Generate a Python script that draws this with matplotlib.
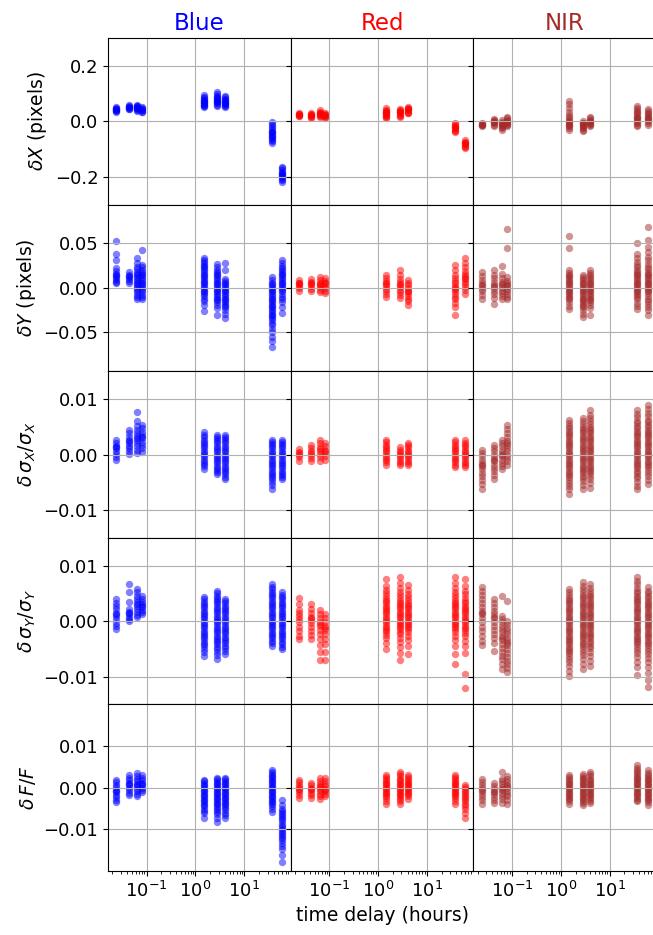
import numpy as np
import matplotlib
matplotlib.use('Agg')
import matplotlib.pyplot as plt

# time delay of each comparison group (hours)
delays = [0.024, 0.043, 0.064, 0.081, 1.48, 2.8, 4.0, 37.0, 60.0]

bands = ['Blue', 'Red', 'NIR']
band_colors = ['blue', 'red', 'brown']

# ---- delta X (pixels)
dx_blue = [
    [0.050, 0.046, 0.043, 0.040, 0.037, 0.034, 0.045, 0.041],
    [0.059, 0.055, 0.051, 0.048, 0.045, 0.043, 0.053],
    [0.060, 0.056, 0.052, 0.049, 0.045, 0.041, 0.037, 0.054, 0.047],
    [0.050, 0.046, 0.042, 0.039, 0.035, 0.033, 0.044],
    [0.095, 0.088, 0.082, 0.077, 0.072, 0.068, 0.064, 0.060, 0.056, 0.052, 0.075, 0.066, 0.058],
    [0.104, 0.097, 0.091, 0.086, 0.081, 0.077, 0.072, 0.068, 0.064, 0.060, 0.056, 0.083, 0.070],
    [0.092, 0.086, 0.080, 0.075, 0.071, 0.066, 0.062, 0.058, 0.054, 0.050, 0.078, 0.064],
    [-0.003, -0.010, -0.018, -0.025, -0.031, -0.037, -0.043, -0.049, -0.055, -0.060, -0.066, -0.072, -0.077, -0.040, -0.052],
    [-0.163, -0.170, -0.177, -0.183, -0.189, -0.195, -0.201, -0.207, -0.212, -0.217, -0.186, -0.198],
]
dx_red = [
    [0.029, 0.026, 0.023, 0.020, 0.018, 0.025],
    [0.030, 0.026, 0.022, 0.018, 0.015, 0.012, 0.024],
    [0.040, 0.035, 0.031, 0.027, 0.023, 0.019, 0.016, 0.029],
    [0.030, 0.026, 0.022, 0.018, 0.014, 0.011, 0.024],
    [0.047, 0.042, 0.038, 0.034, 0.030, 0.026, 0.022, 0.018, 0.014, 0.012, 0.032],
    [0.044, 0.040, 0.036, 0.032, 0.028, 0.024, 0.020, 0.017, 0.034],
    [0.051, 0.047, 0.043, 0.039, 0.035, 0.031, 0.028, 0.045],
    [-0.006, -0.011, -0.016, -0.021, -0.026, -0.031, -0.036, -0.040, -0.019],
    [-0.068, -0.073, -0.078, -0.083, -0.088, -0.092, -0.096, -0.080],
]
dx_nir = [
    [-0.006, -0.009, -0.012, -0.015, -0.018, -0.011],
    [0.008, 0.004, 0.000, -0.004, -0.008, -0.012, -0.016, -0.002],
    [0.004, -0.001, -0.006, -0.011, -0.016, -0.021, -0.026, -0.030, -0.013],
    [0.016, 0.011, 0.006, 0.001, -0.004, -0.009, -0.014, -0.018, -0.007],
    [0.074, 0.061, 0.047, 0.034, 0.022, 0.014, 0.007, 0.000, -0.006, -0.012, -0.018, -0.024, -0.030, -0.003, -0.015],
    [0.000, -0.005, -0.010, -0.015, -0.020, -0.025, -0.030, -0.036, -0.018, -0.008],
    [0.016, 0.011, 0.006, 0.001, -0.004, -0.009, -0.014, -0.018, -0.006],
    [0.056, 0.047, 0.040, 0.034, 0.028, 0.022, 0.016, 0.010, 0.004, -0.002, -0.008, -0.013, -0.018, 0.012],
    [0.044, 0.037, 0.031, 0.025, 0.019, 0.013, 0.007, 0.001, -0.005, -0.012, 0.010],
]

# ---- delta Y (pixels)
dy_blue = [
    [0.053, 0.038, 0.031, 0.022, 0.019, 0.016, 0.013, 0.011, 0.009, 0.007, 0.005, 0.014],
    [0.018, 0.015, 0.012, 0.010, 0.008, 0.006, 0.013],
    [0.033, 0.028, 0.024, 0.021, 0.018, 0.016, 0.014, 0.012, 0.010, 0.008, 0.006, 0.004, 0.002, 0.000, -0.002, -0.005, -0.008, -0.010, -0.013],
    [0.042, 0.026, 0.023, 0.020, 0.018, 0.016, 0.014, 0.012, 0.010, 0.008, 0.006, 0.004, 0.002, 0.000, -0.002, -0.005, -0.008, -0.010, -0.013],
    [0.034, 0.031, 0.029, 0.027, 0.025, 0.023, 0.021, 0.019, 0.017, 0.015, 0.013, 0.011, 0.009, 0.007, 0.005, 0.003, 0.001, -0.001, -0.003, -0.005, -0.007, -0.009, -0.012, -0.015, -0.019, -0.026],
    [0.027, 0.023, 0.020, 0.018, 0.016, 0.014, 0.012, 0.010, 0.008, 0.006, 0.004, 0.002, 0.000, -0.002, -0.004, -0.006, -0.008, -0.010, -0.012, -0.014, -0.016, -0.019, -0.023, -0.030],
    [0.028, 0.020, 0.010, 0.008, 0.006, 0.004, 0.002, 0.000, -0.002, -0.004, -0.006, -0.008, -0.010, -0.012, -0.014, -0.016, -0.018, -0.020, -0.022, -0.025, -0.029, -0.034],
    [0.012, 0.009, 0.006, 0.004, 0.002, 0.000, -0.002, -0.004, -0.006, -0.008, -0.010, -0.012, -0.014, -0.016, -0.018, -0.020, -0.022, -0.024, -0.026, -0.028, -0.030, -0.032, -0.034, -0.036, -0.039, -0.042, -0.046, -0.050, -0.055, -0.060, -0.066],
    [0.031, 0.028, 0.025, 0.022, 0.020, 0.018, 0.016, 0.014, 0.012, 0.010, 0.008, 0.006, 0.004, 0.002, 0.000, -0.002, -0.004, -0.007, -0.010, -0.013, -0.016, -0.021, -0.028],
]
dy_red = [
    [0.009, 0.006, 0.004, 0.002, 0.000, -0.003, 0.005],
    [0.010, 0.007, 0.004, 0.002, -0.001, -0.004, 0.006],
    [0.012, 0.009, 0.006, 0.003, 0.001, -0.002, -0.005, 0.004],
    [0.011, 0.008, 0.005, 0.002, 0.000, -0.003, -0.006, 0.006],
    [0.015, 0.011, 0.008, 0.005, 0.002, -0.001, -0.004, -0.007, -0.010, 0.004],
    [0.020, 0.014, 0.010, 0.007, 0.004, 0.001, -0.002, -0.005, -0.008, -0.011, 0.003],
    [0.009, 0.006, 0.003, 0.000, -0.003, -0.006, -0.009, -0.012, -0.015, -0.019, -0.004],
    [0.026, 0.020, 0.015, 0.011, 0.008, 0.005, 0.002, -0.001, -0.004, -0.007, -0.010, -0.013, -0.017, -0.022, -0.030, 0.000],
    [0.034, 0.028, 0.023, 0.019, 0.016, 0.013, 0.010, 0.007, 0.004, 0.001, -0.002, -0.007, 0.011],
]
dy_nir = [
    [0.018, 0.013, 0.009, 0.005, 0.002, -0.001, -0.004, -0.008, -0.013, 0.003],
    [0.020, 0.015, 0.011, 0.007, 0.003, 0.000, -0.003, -0.007, -0.011, -0.018, 0.002],
    [0.025, 0.016, 0.011, 0.007, 0.003, 0.000, -0.003, -0.006, -0.009, -0.013, 0.004],
    [0.066, 0.045, 0.012, 0.008, 0.005, 0.002, -0.001, -0.004, -0.007, -0.010, -0.013, 0.003],
    [0.058, 0.045, 0.020, 0.017, 0.015, 0.013, 0.011, 0.009, 0.007, 0.005, 0.003, 0.001, -0.001, -0.003, -0.005, -0.007, -0.009, -0.011, -0.013, -0.016, -0.020, -0.024],
    [0.015, 0.012, 0.010, 0.008, 0.006, 0.004, 0.002, 0.000, -0.002, -0.004, -0.006, -0.008, -0.010, -0.012, -0.014, -0.016, -0.018, -0.020, -0.022, -0.025, -0.029, -0.033],
    [0.020, 0.017, 0.014, 0.012, 0.010, 0.008, 0.006, 0.004, 0.002, 0.000, -0.002, -0.004, -0.006, -0.008, -0.010, -0.012, -0.014, -0.016, -0.019, -0.023, -0.030],
    [0.050, 0.038, 0.033, 0.029, 0.026, 0.023, 0.020, 0.018, 0.016, 0.014, 0.012, 0.010, 0.008, 0.006, 0.004, 0.002, 0.000, -0.002, -0.004, -0.006, -0.008, -0.010, -0.013, -0.017, -0.020, -0.024],
    [0.068, 0.054, 0.046, 0.040, 0.035, 0.031, 0.027, 0.024, 0.021, 0.018, 0.016, 0.014, 0.012, 0.010, 0.008, 0.006, 0.004, 0.002, 0.000, -0.002, -0.004, -0.006, -0.009, -0.012, -0.015, -0.018, -0.021, -0.025, -0.030],
]

# ---- relative change of PSF width in x
dsx_blue = [
    [0.0027, 0.0021, 0.0016, 0.0011, 0.0006, 0.0001, -0.0004, -0.0010, 0.0013],
    [0.0045, 0.0038, 0.0032, 0.0026, 0.0021, 0.0016, 0.0011, 0.0006, 0.0001, 0.0024],
    [0.0077, 0.0061, 0.0052, 0.0045, 0.0039, 0.0033, 0.0027, 0.0021, 0.0015, 0.0009, 0.0003, 0.0030],
    [0.0054, 0.0047, 0.0041, 0.0035, 0.0029, 0.0023, 0.0017, 0.0011, 0.0005, 0.0032],
    [0.0040, 0.0035, 0.0031, 0.0027, 0.0023, 0.0019, 0.0015, 0.0011, 0.0007, 0.0003, -0.0001, -0.0005, -0.0009, -0.0013, -0.0017, -0.0021, -0.0027],
    [0.0036, 0.0032, 0.0028, 0.0024, 0.0020, 0.0016, 0.0012, 0.0008, 0.0004, 0.0000, -0.0004, -0.0008, -0.0012, -0.0016, -0.0020, -0.0024, -0.0028, -0.0032, -0.0036],
    [0.0036, 0.0032, 0.0028, 0.0024, 0.0020, 0.0016, 0.0012, 0.0008, 0.0004, 0.0000, -0.0004, -0.0008, -0.0012, -0.0016, -0.0020, -0.0024, -0.0028, -0.0032, -0.0036, -0.0040, -0.0045],
    [0.0027, 0.0023, 0.0019, 0.0015, 0.0011, 0.0007, 0.0003, -0.0001, -0.0005, -0.0009, -0.0013, -0.0017, -0.0021, -0.0025, -0.0029, -0.0033, -0.0037, -0.0041, -0.0045, -0.0050, -0.0055, -0.0063],
    [0.0027, 0.0023, 0.0019, 0.0015, 0.0011, 0.0007, 0.0003, -0.0001, -0.0005, -0.0009, -0.0013, -0.0017, -0.0021, -0.0025, -0.0029, -0.0033, -0.0037, -0.0041, -0.0045],
]
dsx_red = [
    [0.0010, 0.0005, 0.0000, -0.0005, -0.0012, 0.0002],
    [0.0018, 0.0012, 0.0006, 0.0000, -0.0006, -0.0012, 0.0003],
    [0.0027, 0.0020, 0.0013, 0.0007, 0.0001, -0.0005, -0.0012, 0.0010],
    [0.0021, 0.0015, 0.0009, 0.0003, -0.0003, -0.0009, 0.0006],
    [0.0027, 0.0022, 0.0018, 0.0014, 0.0010, 0.0006, 0.0002, -0.0002, -0.0006, -0.0010, -0.0014, -0.0018],
    [0.0013, 0.0009, 0.0005, 0.0001, -0.0003, -0.0007, -0.0011, -0.0015, -0.0018],
    [0.0021, 0.0017, 0.0013, 0.0009, 0.0005, 0.0001, -0.0003, -0.0007, -0.0011, -0.0015, -0.0018],
    [0.0027, 0.0022, 0.0018, 0.0014, 0.0010, 0.0006, 0.0002, -0.0002, -0.0006, -0.0010, -0.0014, -0.0018, -0.0023],
    [0.0026, 0.0021, 0.0017, 0.0013, 0.0009, 0.0005, 0.0001, -0.0003, -0.0007, -0.0011, -0.0015, -0.0019, -0.0023],
]
dsx_nir = [
    [0.0009, 0.0003, -0.0003, -0.0009, -0.0015, -0.0021, -0.0027, -0.0033, -0.0039, -0.0046, -0.0054, -0.0063, -0.0018],
    [0.0018, 0.0012, 0.0006, 0.0000, -0.0006, -0.0012, -0.0018, -0.0024, -0.0030, -0.0037, -0.0045, -0.0009],
    [0.0027, 0.0021, 0.0015, 0.0009, 0.0003, -0.0003, -0.0009, -0.0015, -0.0021, -0.0027, 0.0000],
    [0.0054, 0.0046, 0.0039, 0.0032, 0.0025, 0.0018, 0.0012, 0.0006, 0.0000, -0.0006, -0.0012, -0.0018, 0.0021],
    [0.0063, 0.0057, 0.0052, 0.0047, 0.0043, 0.0039, 0.0035, 0.0031, 0.0027, 0.0023, 0.0019, 0.0015, 0.0011, 0.0007, 0.0003, -0.0001, -0.0005, -0.0009, -0.0013, -0.0017, -0.0021, -0.0025, -0.0029, -0.0033, -0.0037, -0.0041, -0.0046, -0.0051, -0.0057, -0.0063, -0.0071],
    [0.0066, 0.0060, 0.0055, 0.0050, 0.0046, 0.0042, 0.0038, 0.0034, 0.0030, 0.0026, 0.0022, 0.0018, 0.0014, 0.0010, 0.0006, 0.0002, -0.0002, -0.0006, -0.0010, -0.0014, -0.0018, -0.0022, -0.0026, -0.0030, -0.0034, -0.0038, -0.0043, -0.0048, -0.0055, -0.0063],
    [0.0080, 0.0072, 0.0066, 0.0060, 0.0055, 0.0050, 0.0046, 0.0042, 0.0038, 0.0034, 0.0030, 0.0026, 0.0022, 0.0018, 0.0014, 0.0010, 0.0006, 0.0002, -0.0002, -0.0006, -0.0010, -0.0014, -0.0018, -0.0022, -0.0026, -0.0030, -0.0034, -0.0039, -0.0045, -0.0052, -0.0060],
    [0.0080, 0.0073, 0.0067, 0.0061, 0.0056, 0.0051, 0.0047, 0.0043, 0.0039, 0.0035, 0.0031, 0.0027, 0.0023, 0.0019, 0.0015, 0.0011, 0.0007, 0.0003, -0.0001, -0.0005, -0.0009, -0.0013, -0.0017, -0.0021, -0.0025, -0.0029, -0.0033, -0.0038, -0.0043, -0.0049, -0.0056, -0.0063],
    [0.0090, 0.0082, 0.0075, 0.0069, 0.0063, 0.0058, 0.0053, 0.0049, 0.0045, 0.0041, 0.0037, 0.0033, 0.0029, 0.0025, 0.0021, 0.0017, 0.0013, 0.0009, 0.0005, 0.0001, -0.0003, -0.0007, -0.0011, -0.0015, -0.0019, -0.0023, -0.0028, -0.0033, -0.0039, -0.0046, -0.0054],
]

# ---- relative change of PSF width in y
dsy_blue = [
    [0.0039, 0.0033, 0.0027, 0.0021, 0.0015, 0.0009, 0.0003, -0.0003, -0.0009, -0.0014, 0.0012],
    [0.0066, 0.0052, 0.0034, 0.0022, 0.0017, 0.0012, 0.0007, 0.0003, 0.0001, 0.0015],
    [0.0058, 0.0052, 0.0046, 0.0040, 0.0034, 0.0028, 0.0022, 0.0016, 0.0011, 0.0007, 0.0031],
    [0.0045, 0.0040, 0.0035, 0.0030, 0.0025, 0.0020, 0.0016, 0.0013, 0.0028],
    [0.0043, 0.0039, 0.0035, 0.0031, 0.0027, 0.0023, 0.0019, 0.0015, 0.0011, 0.0007, 0.0003, -0.0001, -0.0005, -0.0009, -0.0013, -0.0017, -0.0021, -0.0025, -0.0029, -0.0033, -0.0037, -0.0041, -0.0045, -0.0050, -0.0055, -0.0062],
    [0.0055, 0.0050, 0.0046, 0.0042, 0.0038, 0.0034, 0.0030, 0.0026, 0.0022, 0.0018, 0.0014, 0.0010, 0.0006, 0.0002, -0.0002, -0.0006, -0.0010, -0.0014, -0.0018, -0.0022, -0.0026, -0.0030, -0.0034, -0.0038, -0.0042, -0.0046, -0.0050, -0.0055, -0.0061, -0.0069],
    [0.0040, 0.0036, 0.0032, 0.0028, 0.0024, 0.0020, 0.0016, 0.0012, 0.0008, 0.0004, 0.0000, -0.0004, -0.0008, -0.0012, -0.0016, -0.0020, -0.0024, -0.0028, -0.0032, -0.0036, -0.0040, -0.0044, -0.0048, -0.0053, -0.0060],
    [0.0067, 0.0062, 0.0057, 0.0053, 0.0049, 0.0045, 0.0041, 0.0037, 0.0033, 0.0029, 0.0025, 0.0021, 0.0017, 0.0013, 0.0009, 0.0005, 0.0001, -0.0003, -0.0007, -0.0011, -0.0015, -0.0019, -0.0023, -0.0027, -0.0031, -0.0035, -0.0039, -0.0044],
    [0.0052, 0.0047, 0.0043, 0.0039, 0.0035, 0.0031, 0.0027, 0.0023, 0.0019, 0.0015, 0.0011, 0.0007, 0.0003, -0.0001, -0.0005, -0.0009, -0.0013, -0.0017, -0.0021, -0.0025, -0.0029, -0.0033, -0.0037, -0.0041, -0.0046, -0.0051],
]
dsy_red = [
    [0.0042, 0.0030, 0.0020, 0.0010, 0.0004, -0.0002, -0.0010, -0.0018, -0.0026, -0.0033, 0.0014],
    [0.0030, 0.0022, 0.0015, 0.0008, 0.0002, -0.0004, -0.0011, -0.0018, -0.0025, -0.0033, 0.0005],
    [0.0020, 0.0012, 0.0005, -0.0002, -0.0009, -0.0016, -0.0024, -0.0033, -0.0043, -0.0055, -0.0070, -0.0006],
    [0.0012, 0.0005, -0.0002, -0.0009, -0.0016, -0.0024, -0.0032, -0.0042, -0.0055, -0.0070, -0.0012],
    [0.0075, 0.0064, 0.0056, 0.0050, 0.0045, 0.0040, 0.0036, 0.0032, 0.0028, 0.0024, 0.0020, 0.0016, 0.0012, 0.0008, 0.0004, 0.0000, -0.0004, -0.0008, -0.0012, -0.0016, -0.0020, -0.0025, -0.0031, -0.0039, -0.0050],
    [0.0080, 0.0069, 0.0060, 0.0053, 0.0047, 0.0042, 0.0037, 0.0033, 0.0029, 0.0025, 0.0021, 0.0017, 0.0013, 0.0009, 0.0005, 0.0001, -0.0003, -0.0007, -0.0011, -0.0015, -0.0019, -0.0024, -0.0030, -0.0037, -0.0046, -0.0057, -0.0070],
    [0.0065, 0.0056, 0.0049, 0.0043, 0.0038, 0.0033, 0.0029, 0.0025, 0.0021, 0.0017, 0.0013, 0.0009, 0.0005, 0.0001, -0.0003, -0.0007, -0.0011, -0.0015, -0.0020, -0.0026, -0.0034, -0.0044, -0.0060],
    [0.0080, 0.0069, 0.0060, 0.0053, 0.0047, 0.0042, 0.0037, 0.0033, 0.0029, 0.0025, 0.0021, 0.0017, 0.0013, 0.0009, 0.0005, 0.0001, -0.0003, -0.0007, -0.0011, -0.0015, -0.0020, -0.0026, -0.0034, -0.0045, -0.0060, -0.0078],
    [0.0075, 0.0064, 0.0055, 0.0048, 0.0042, 0.0037, 0.0032, 0.0028, 0.0024, 0.0020, 0.0016, 0.0012, 0.0008, 0.0004, 0.0000, -0.0004, -0.0008, -0.0012, -0.0016, -0.0021, -0.0027, -0.0035, -0.0045, -0.0058, -0.0095, -0.0120],
]
dsy_nir = [
    [0.0061, 0.0054, 0.0047, 0.0040, 0.0033, 0.0026, 0.0019, 0.0012, 0.0005, -0.0002, -0.0010, -0.0018, -0.0027, -0.0035, -0.0043, 0.0015],
    [0.0040, 0.0033, 0.0026, 0.0019, 0.0012, 0.0005, -0.0002, -0.0009, -0.0016, -0.0023, -0.0031, -0.0040, -0.0053, 0.0008],
    [0.0045, 0.0010, 0.0004, -0.0002, -0.0008, -0.0014, -0.0020, -0.0027, -0.0034, -0.0041, -0.0048, -0.0055, -0.0062, -0.0069, -0.0077, -0.0086, -0.0030],
    [0.0037, 0.0000, -0.0006, -0.0012, -0.0018, -0.0024, -0.0030, -0.0036, -0.0043, -0.0050, -0.0057, -0.0064, -0.0071, -0.0078, -0.0085, -0.0092, -0.0040],
    [0.0058, 0.0052, 0.0047, 0.0042, 0.0038, 0.0034, 0.0030, 0.0026, 0.0022, 0.0018, 0.0014, 0.0010, 0.0006, 0.0002, -0.0002, -0.0006, -0.0010, -0.0014, -0.0018, -0.0022, -0.0026, -0.0030, -0.0034, -0.0038, -0.0042, -0.0046, -0.0050, -0.0054, -0.0058, -0.0063, -0.0068, -0.0074, -0.0081, -0.0089, -0.0098],
    [0.0070, 0.0063, 0.0057, 0.0052, 0.0047, 0.0043, 0.0039, 0.0035, 0.0031, 0.0027, 0.0023, 0.0019, 0.0015, 0.0011, 0.0007, 0.0003, -0.0001, -0.0005, -0.0009, -0.0013, -0.0017, -0.0021, -0.0025, -0.0029, -0.0033, -0.0037, -0.0041, -0.0045, -0.0050, -0.0055, -0.0061, -0.0068, -0.0077, -0.0087],
    [0.0067, 0.0060, 0.0054, 0.0049, 0.0045, 0.0041, 0.0037, 0.0033, 0.0029, 0.0025, 0.0021, 0.0017, 0.0013, 0.0009, 0.0005, 0.0001, -0.0003, -0.0007, -0.0011, -0.0015, -0.0019, -0.0023, -0.0027, -0.0031, -0.0035, -0.0039, -0.0044, -0.0049, -0.0055, -0.0062, -0.0071, -0.0081],
    [0.0079, 0.0072, 0.0066, 0.0060, 0.0055, 0.0050, 0.0046, 0.0042, 0.0038, 0.0034, 0.0030, 0.0026, 0.0022, 0.0018, 0.0014, 0.0010, 0.0006, 0.0002, -0.0002, -0.0006, -0.0010, -0.0014, -0.0018, -0.0022, -0.0026, -0.0030, -0.0034, -0.0038, -0.0042, -0.0047, -0.0052, -0.0058, -0.0065, -0.0073, -0.0083, -0.0097],
    [0.0061, 0.0055, 0.0050, 0.0045, 0.0041, 0.0037, 0.0033, 0.0029, 0.0025, 0.0021, 0.0017, 0.0013, 0.0009, 0.0005, 0.0001, -0.0003, -0.0007, -0.0011, -0.0015, -0.0019, -0.0023, -0.0027, -0.0031, -0.0035, -0.0039, -0.0043, -0.0048, -0.0053, -0.0059, -0.0066, -0.0074, -0.0083, -0.0094, -0.0106, -0.0119],
]

# ---- relative flux change
df_blue = [
    [0.0019, 0.0013, 0.0007, 0.0001, -0.0005, -0.0011, -0.0017, -0.0023, -0.0029, -0.0034, -0.0008],
    [0.0030, 0.0024, 0.0018, 0.0012, 0.0006, 0.0000, -0.0006, -0.0012, -0.0017, 0.0010],
    [0.0036, 0.0029, 0.0022, 0.0016, 0.0010, 0.0004, -0.0002, -0.0008, -0.0014, -0.0020, 0.0007],
    [0.0030, 0.0024, 0.0018, 0.0012, 0.0006, 0.0000, -0.0006, -0.0011, 0.0009],
    [0.0019, 0.0015, 0.0011, 0.0007, 0.0003, -0.0001, -0.0005, -0.0009, -0.0013, -0.0017, -0.0021, -0.0025, -0.0029, -0.0033, -0.0037, -0.0041, -0.0045, -0.0050, -0.0055, -0.0061, -0.0072],
    [0.0024, 0.0020, 0.0016, 0.0012, 0.0008, 0.0004, 0.0000, -0.0004, -0.0008, -0.0012, -0.0016, -0.0020, -0.0024, -0.0028, -0.0032, -0.0036, -0.0040, -0.0044, -0.0048, -0.0053, -0.0058, -0.0064, -0.0072, -0.0082],
    [0.0024, 0.0020, 0.0016, 0.0012, 0.0008, 0.0004, 0.0000, -0.0004, -0.0008, -0.0012, -0.0016, -0.0020, -0.0024, -0.0028, -0.0032, -0.0036, -0.0040, -0.0044, -0.0049, -0.0054, -0.0060, -0.0066, -0.0072],
    [0.0043, 0.0038, 0.0033, 0.0029, 0.0025, 0.0021, 0.0017, 0.0013, 0.0009, 0.0005, 0.0001, -0.0003, -0.0007, -0.0011, -0.0015, -0.0019, -0.0023, -0.0027, -0.0031, -0.0035, -0.0040, -0.0045, -0.0051, -0.0058],
    [-0.0029, -0.0041, -0.0050, -0.0056, -0.0061, -0.0066, -0.0071, -0.0076, -0.0081, -0.0086, -0.0091, -0.0096, -0.0101, -0.0106, -0.0111, -0.0116, -0.0121, -0.0126, -0.0132, -0.0139, -0.0148, -0.0162, -0.0178],
]
df_red = [
    [0.0019, 0.0013, 0.0007, 0.0001, -0.0005, -0.0011, -0.0017, -0.0024, -0.0003],
    [0.0012, 0.0006, 0.0000, -0.0006, -0.0012, -0.0018, -0.0024, -0.0004],
    [0.0024, 0.0017, 0.0010, 0.0004, -0.0002, -0.0008, -0.0014, -0.0020, -0.0028, 0.0001],
    [0.0024, 0.0017, 0.0010, 0.0004, -0.0002, -0.0008, -0.0014, -0.0020, -0.0006],
    [0.0030, 0.0025, 0.0020, 0.0016, 0.0012, 0.0008, 0.0004, 0.0000, -0.0004, -0.0008, -0.0012, -0.0016, -0.0020, -0.0025, -0.0031, -0.0040],
    [0.0038, 0.0032, 0.0027, 0.0022, 0.0018, 0.0014, 0.0010, 0.0006, 0.0002, -0.0002, -0.0006, -0.0010, -0.0014, -0.0018, -0.0022, -0.0027, -0.0033, -0.0040],
    [0.0030, 0.0025, 0.0020, 0.0016, 0.0012, 0.0008, 0.0004, 0.0000, -0.0004, -0.0008, -0.0012, -0.0016, -0.0021, -0.0026],
    [0.0030, 0.0025, 0.0020, 0.0016, 0.0012, 0.0008, 0.0004, 0.0000, -0.0004, -0.0008, -0.0012, -0.0016, -0.0020, -0.0025, -0.0032, -0.0040],
    [0.0007, 0.0002, -0.0003, -0.0008, -0.0013, -0.0018, -0.0023, -0.0028, -0.0033, -0.0038, -0.0044, -0.0051, -0.0060, -0.0072],
]
df_nir = [
    [0.0020, 0.0013, 0.0006, -0.0001, -0.0008, -0.0015, -0.0022, -0.0030, -0.0038, -0.0005],
    [0.0012, 0.0005, -0.0002, -0.0009, -0.0016, -0.0023, -0.0030, -0.0036, -0.0010],
    [0.0038, 0.0022, 0.0015, 0.0008, 0.0001, -0.0006, -0.0013, -0.0020, -0.0027, -0.0036, -0.0004],
    [0.0028, 0.0021, 0.0014, 0.0007, 0.0000, -0.0007, -0.0014, -0.0021, -0.0029, -0.0038, 0.0003],
    [0.0030, 0.0025, 0.0020, 0.0016, 0.0012, 0.0008, 0.0004, 0.0000, -0.0004, -0.0008, -0.0012, -0.0016, -0.0020, -0.0024, -0.0028, -0.0033, -0.0038],
    [0.0034, 0.0029, 0.0024, 0.0020, 0.0016, 0.0012, 0.0008, 0.0004, 0.0000, -0.0004, -0.0008, -0.0012, -0.0016, -0.0020, -0.0024, -0.0028, -0.0032, -0.0036, -0.0041],
    [0.0038, 0.0032, 0.0027, 0.0022, 0.0018, 0.0014, 0.0010, 0.0006, 0.0002, -0.0002, -0.0006, -0.0010, -0.0014, -0.0018, -0.0022, -0.0026, -0.0031, -0.0036],
    [0.0055, 0.0048, 0.0042, 0.0037, 0.0032, 0.0028, 0.0024, 0.0020, 0.0016, 0.0012, 0.0008, 0.0004, 0.0000, -0.0004, -0.0008, -0.0012, -0.0016, -0.0020, -0.0024, -0.0029, -0.0033],
    [0.0042, 0.0036, 0.0031, 0.0026, 0.0022, 0.0018, 0.0014, 0.0010, 0.0006, 0.0002, -0.0002, -0.0006, -0.0010, -0.0014, -0.0018, -0.0022, -0.0026, -0.0030, -0.0035, -0.0041],
]

ylabels = [r'$\delta X$ (pixels)', r'$\delta Y$ (pixels)',
           r'$\delta\,\sigma_X/\sigma_X$', r'$\delta\,\sigma_Y/\sigma_Y$', r'$\delta\,F/F$']
ylims = [0.3, 0.0935, 0.015, 0.015, 0.02]
yticks = [[-0.2, 0.0, 0.2], [-0.05, 0.0, 0.05], [-0.01, 0.0, 0.01],
          [-0.01, 0.0, 0.01], [-0.01, 0.0, 0.01]]

rows = [[dx_blue, dx_red, dx_nir],
        [dy_blue, dy_red, dy_nir],
        [dsx_blue, dsx_red, dsx_nir],
        [dsy_blue, dsy_red, dsy_nir],
        [df_blue, df_red, df_nir]]

fig, axes = plt.subplots(5, 3, sharex=True, sharey='row', figsize=(6.53, 9.35), dpi=100)
fig.subplots_adjust(left=0.1654, right=1.0046, top=0.9594, bottom=0.0684,
                    wspace=0, hspace=0)

for i, row in enumerate(rows):
    for j, groups in enumerate(row):
        ax = axes[i, j]
        for t, vals in zip(delays, groups):
            ax.scatter(np.full(len(vals), t), vals, s=28, color=band_colors[j],
                       alpha=0.5, linewidths=0)
        ax.set_xscale('log')
        ax.grid(True)
        ax.tick_params(labelsize=13)
        if i == 0:
            ax.set_title(bands[j], color=band_colors[j], fontsize=16.5)
    axes[i, 0].set_ylim(-ylims[i], ylims[i])
    axes[i, 0].set_yticks(yticks[i])
    axes[i, 0].set_ylabel(ylabels[i], fontsize=13.5)

axes[4, 1].set_xlabel('time delay (hours)', fontsize=13.5)

fig.savefig('out.png', dpi=100)
